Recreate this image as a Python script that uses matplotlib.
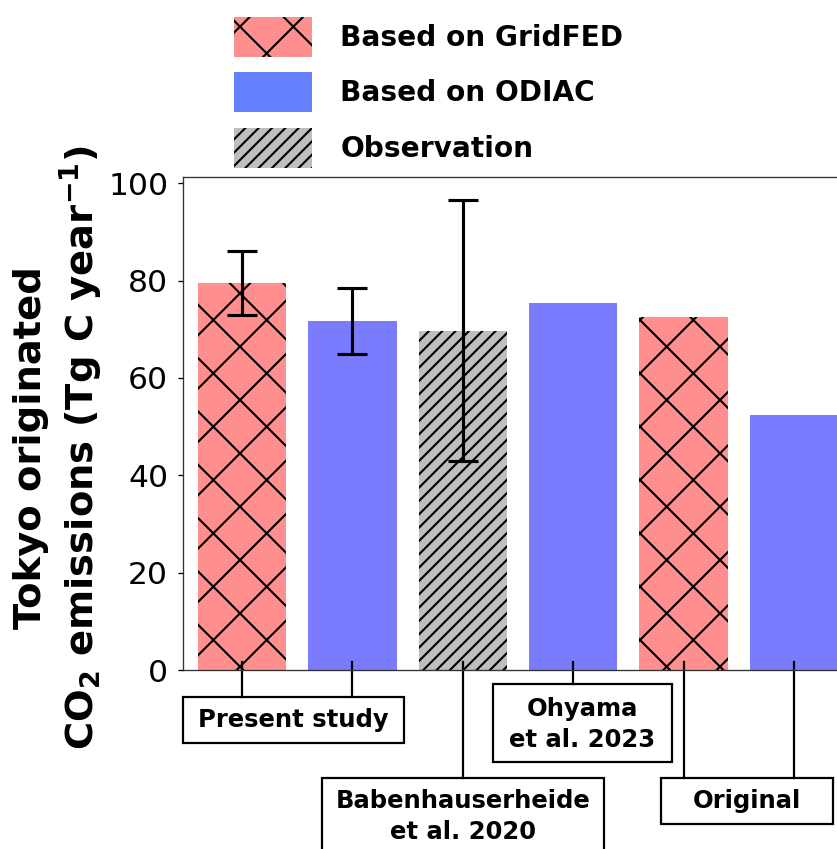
import matplotlib
matplotlib.use("Agg")
import matplotlib.pyplot as plt
from matplotlib.patches import Patch, Rectangle

# data
positions = [0, 1, 2, 3, 4, 5]
values = [79.5, 71.7, 69.7, 75.4, 72.6, 52.4]
errors = [6.5, 6.8, 26.8, 0, 0, 0]
kinds = ["gridfed", "odiac", "obs", "odiac", "gridfed", "odiac"]

legend_labels = ["Based on GridFED", "Based on ODIAC", "Observation"]
groups = ["Present study", "Babenhauserheide\net al. 2020", "Ohyama\net al. 2023", "Original"]
group_bars = [[0, 1], [2], [3], [4, 5]]

red = "#ff8f8f"
blue = "#7b7bff"
blue_leg = "#6680ff"
grey = "#bebebe"
style = {"gridfed": (red, "x"), "odiac": (blue, ""), "obs": (grey, "////")}

DPI = 160
plt.rcParams["hatch.linewidth"] = 0.94

fig = plt.figure(figsize=(837 / DPI, 849 / DPI), dpi=DPI)
ax = fig.add_axes([183 / 837, 1 - 670 / 849, 1 - 183 / 837, (670 - 177) / 849])

for x, v, k in zip(positions, values, kinds):
    c, h = style[k]
    ax.bar(x, v, width=0.8, color=c, hatch=h, edgecolor="black", linewidth=0)

for x, v, e in zip(positions, values, errors):
    if e > 0:
        ax.errorbar(x, v, yerr=e, fmt="none", ecolor="black", elinewidth=1.4,
                    capsize=6.9, capthick=1.4)

ax.set_xlim(-0.534, 5.39)
ax.set_ylim(0, 101.3)
ax.set_yticks([0, 20, 40, 60, 80, 100])
ax.set_xticks([])
ax.tick_params(axis="y", labelsize=14.1, length=2.25, width=0.6, pad=4.4)
for s in ax.spines.values():
    s.set_linewidth(0.6)
    s.set_color("#333333")
ax.spines["right"].set_visible(False)

fig.text(59 / 837, 1 - 448 / 849,
         "Tokyo originated\nCO$_\\mathbf{2}$ emissions (Tg C year$^{\\mathbf{-1}}$)",
         rotation=90, ha="center", va="center", fontsize=17.3, fontweight="bold",
         multialignment="center", linespacing=1.2)

# labels under the bars, boxes in data units
boxes = [(-0.534, 1.467, -5.55, -15.0),
         (0.725, 3.28, -22.2, -42.0),
         (2.27, 3.895, -2.88, -18.9),
         (3.80, 5.35, -22.2, -31.65)]
text_y = [-10.3, -30.2, -11.2, -26.9]
for name, bars, (x0, x1, yt, yb), ty in zip(groups, group_bars, boxes, text_y):
    for b in bars:
        ax.plot([positions[b], positions[b]], [1.6, yt], color="black", lw=1.0,
                clip_on=False)
    ax.add_patch(Rectangle((x0, yb), x1 - x0, yt - yb, facecolor="white",
                           edgecolor="black", lw=1.0, clip_on=False))
    ax.text((x0 + x1) / 2, ty, name, ha="center", va="center", fontsize=10.9,
            fontweight="bold", linespacing=1.37, clip_on=False)

handles = [Patch(facecolor=red, edgecolor="black", linewidth=0, hatch="x"),
           Patch(facecolor=blue_leg, linewidth=0),
           Patch(facecolor=grey, edgecolor="black", linewidth=0, hatch="////")]
fig.legend(handles, legend_labels, loc="upper left",
           bbox_to_anchor=(234 / 837, 1 - 17 / 849), frameon=False,
           prop={"size": 12.6, "weight": "bold"}, handlelength=2.8,
           handleheight=1.82, handletextpad=1.0, labelspacing=0.55,
           borderpad=0, borderaxespad=0)

fig.savefig("out.png", dpi=DPI)
